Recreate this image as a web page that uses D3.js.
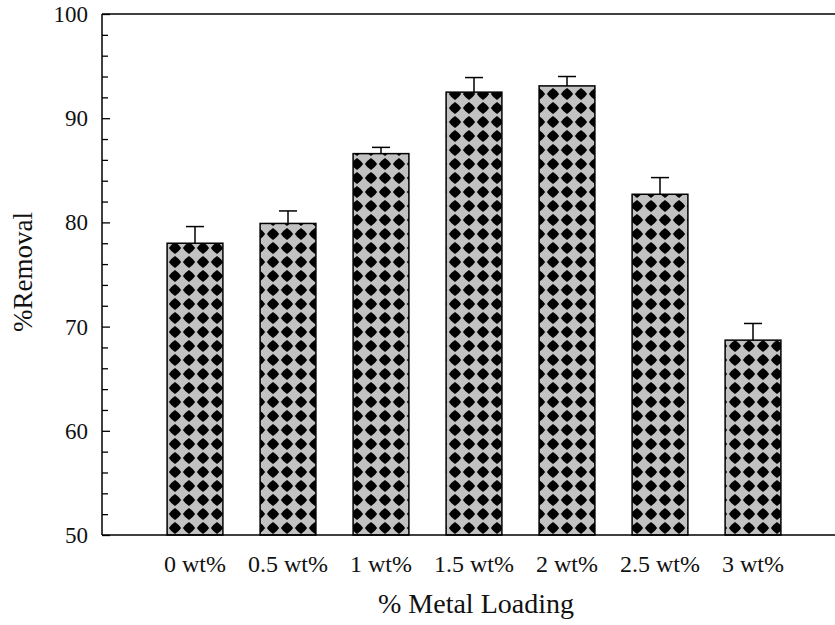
<!DOCTYPE html>
<html>
<head>
<meta charset="utf-8">
<script src="https://cdn.jsdelivr.net/npm/d3@7"></script>
<style>
  html, body { margin: 0; padding: 0; background: #fff; }
  svg { display: block; }
  text { font-family: "Liberation Serif", "Times New Roman", serif; fill: #111; }
</style>
</head>
<body>
<svg id="chart" width="835" height="625"></svg>
<script>
// Removal efficiency vs. metal loading
const categories = ["0 wt%", "0.5 wt%", "1 wt%", "1.5 wt%", "2 wt%", "2.5 wt%", "3 wt%"];
const removal    = [78.0, 79.9, 86.6, 92.5, 93.1, 82.7, 68.7];
const errors     = [1.6, 1.2, 0.6, 1.4, 0.9, 1.6, 1.6];
const yTicks     = [50, 60, 70, 80, 90, 100];

const svg = d3.select("#chart");
const plotLeft = 102, plotRight = 835, plotTop = 14, plotBottom = 535;

const y = d3.scaleLinear().domain([50, 100]).range([plotBottom, plotTop]);
const x = d3.scaleBand().domain(categories).range([148.5, 799.5]).paddingInner(0.4).paddingOuter(0.2);

// Fill pattern: black rounded diamonds on grey
const defs = svg.append("defs");
const pat = defs.append("pattern")
  .attr("id", "diamonds")
  .attr("patternUnits", "userSpaceOnUse")
  .attr("width", 14).attr("height", 14)
  .attr("x", 0).attr("y", plotBottom % 14);
pat.append("rect").attr("width", 14).attr("height", 14).attr("fill", "#c2c2c2");
const diamond = "M7,0.9 Q10.7,3.3 13.1,7 Q10.7,10.7 7,13.1 Q3.3,10.7 0.9,7 Q3.3,3.3 7,0.9Z";
pat.append("path").attr("d", diamond).attr("fill", "#000");

// Bars
const data = categories.map((c, i) => ({ c, v: removal[i], e: errors[i] }));
svg.append("g").selectAll("rect").data(data).join("rect")
  .attr("x", d => x(d.c))
  .attr("y", d => y(d.v))
  .attr("width", x.bandwidth())
  .attr("height", d => y(50) - y(d.v))
  .attr("fill", "url(#diamonds)")
  .attr("stroke", "#000")
  .attr("stroke-width", 1.5);

// Error bars (upper only)
const eb = svg.append("g").attr("stroke", "#000").attr("stroke-width", 1.5);
eb.selectAll("line.v").data(data).join("line").attr("class", "v")
  .attr("x1", d => x(d.c) + x.bandwidth() / 2)
  .attr("x2", d => x(d.c) + x.bandwidth() / 2)
  .attr("y1", d => y(d.v))
  .attr("y2", d => y(d.v + d.e));
eb.selectAll("line.cap").data(data).join("line").attr("class", "cap")
  .attr("x1", d => x(d.c) + x.bandwidth() / 2 - 9)
  .attr("x2", d => x(d.c) + x.bandwidth() / 2 + 9)
  .attr("y1", d => y(d.v + d.e))
  .attr("y2", d => y(d.v + d.e));

// Frame lines
const frame = svg.append("g").attr("stroke", "#000").attr("stroke-width", 1.5);
frame.append("line").attr("x1", plotLeft).attr("x2", plotRight).attr("y1", plotTop).attr("y2", plotTop);
frame.append("line").attr("x1", plotLeft).attr("x2", plotRight).attr("y1", plotBottom).attr("y2", plotBottom);

// Y axis with inward ticks and minor ticks
const yAxis = d3.axisRight(y).tickValues(yTicks).tickSize(8).tickFormat("");
const yg = svg.append("g").attr("transform", `translate(${plotLeft},0)`).call(yAxis);
yg.select(".domain").attr("stroke-width", 1.5).attr("d", `M0,${plotTop}V${plotBottom}`);
yg.selectAll(".tick line").attr("stroke-width", 1.3);
const minor = d3.range(52, 100, 2).filter(v => v % 10 !== 0);
svg.append("g").attr("transform", `translate(${plotLeft},0)`).call(
  d3.axisRight(y).tickValues(minor).tickSize(6).tickFormat("")
).call(g => { g.select(".domain").remove(); g.selectAll(".tick line").attr("stroke-width", 1.3); });

// Y tick labels
svg.append("g").selectAll("text").data(yTicks).join("text")
  .attr("x", 88).attr("y", d => y(d) + 8)
  .attr("text-anchor", "end")
  .attr("font-size", 23)
  .text(d => d);

// Category labels
const xAxis = d3.axisBottom(x).tickSize(0).tickPadding(20);
const xg = svg.append("g").attr("transform", `translate(0,${plotBottom})`).call(xAxis);
xg.select(".domain").remove();
xg.selectAll("text").attr("font-size", 24).attr("font-family", "Liberation Serif, serif").attr("fill", "#111");

// Axis titles
svg.append("text")
  .attr("x", 476).attr("y", 613)
  .attr("text-anchor", "middle")
  .attr("font-size", 28)
  .text("% Metal Loading");
svg.append("text")
  .attr("transform", "translate(32,272) rotate(-90)")
  .attr("text-anchor", "middle")
  .attr("font-size", 27)
  .text("%Removal");
</script>
</body>
</html>
